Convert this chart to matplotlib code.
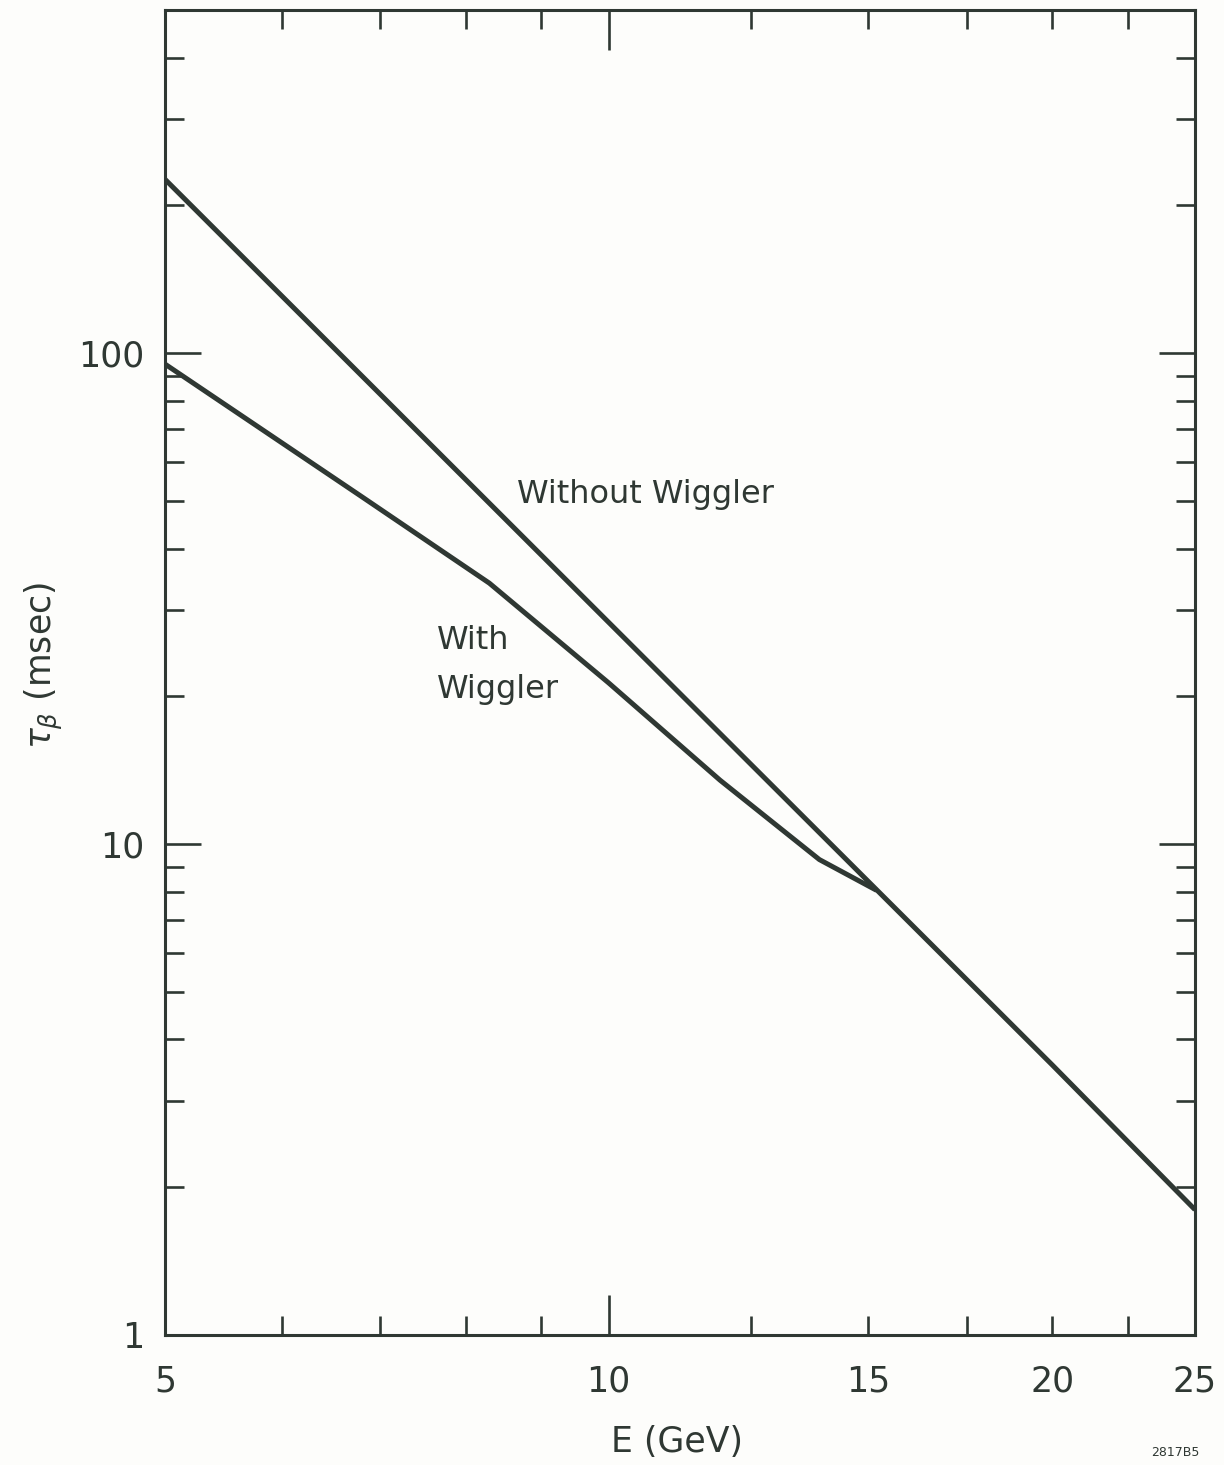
import matplotlib
matplotlib.use("Agg")
import matplotlib.pyplot as plt
from matplotlib.ticker import FixedLocator, FixedFormatter, NullFormatter, LogLocator

# Damping time vs. beam energy
energy_without = [5, 10, 15, 20, 25]
tau_without = [226, 28.3, 8.4, 3.55, 1.8]

energy_with = [5, 6.8, 8.3, 10, 11.9, 13.9, 15.2]
tau_with = [95, 51, 34, 21.3, 13.5, 9.3, 8.05]

x_major = [5, 10, 15, 20, 25]
x_major_labels = ["5", "10", "15", "20", "25"]
x_minor = [6, 7, 8, 9, 12.5, 17.5, 22.5]
y_major = [1, 10, 100]
y_major_labels = ["1", "10", "100"]

ink = "#2f3833"
plt.rcParams["font.family"] = ["DejaVu Sans"]

fig = plt.figure(figsize=(12.24, 14.65), dpi=100, facecolor="#fdfdfb")
ax = fig.add_axes([165 / 1224, 130 / 1465, 1030 / 1224, 1325 / 1465])
ax.set_facecolor("#fdfdfb")

ax.plot(energy_without, tau_without, color=ink, lw=3.6, solid_capstyle="butt")
ax.plot(energy_with, tau_with, color=ink, lw=3.6, solid_capstyle="butt",
        solid_joinstyle="round")

ax.set_xscale("log")
ax.set_yscale("log")
ax.set_xlim(5, 25)
ax.set_ylim(1, 500)

ax.xaxis.set_major_locator(FixedLocator(x_major))
ax.xaxis.set_major_formatter(FixedFormatter(x_major_labels))
ax.xaxis.set_minor_locator(FixedLocator(x_minor))
ax.xaxis.set_minor_formatter(NullFormatter())

ax.yaxis.set_major_locator(FixedLocator(y_major))
ax.yaxis.set_major_formatter(FixedFormatter(y_major_labels))
ax.yaxis.set_minor_locator(LogLocator(base=10, subs=range(2, 10)))
ax.yaxis.set_minor_formatter(NullFormatter())

for s in ax.spines.values():
    s.set_linewidth(2.2)
    s.set_color(ink)

ax.tick_params(axis="both", which="both", direction="in", top=True, right=True,
               color=ink, width=1.9, labelcolor=ink)
ax.tick_params(axis="x", which="major", length=14, pad=21, labelsize=25)
ax.tick_params(axis="x", which="minor", length=14)
ax.tick_params(axis="y", which="major", length=26, pad=15, labelsize=25)
ax.tick_params(axis="y", which="minor", length=14)

# longer mark at E = 10 GeV on bottom and top axes
t10 = ax.xaxis.get_major_ticks()[1]
t10.tick1line.set_markersize(29)
t10.tick2line.set_markersize(29)

ax.set_xlabel("E (GeV)", fontsize=25, color=ink)
ax.xaxis.set_label_coords(0.497, -0.081)
ax.xaxis.label.set_verticalalignment("center")

ax.set_ylabel(r"$\tau_\beta$ (msec)", fontsize=25, color=ink)
ax.yaxis.set_label_coords(-0.118, 0.505)
ax.yaxis.label.set_verticalalignment("center")

ax.text(8.67, 51.5, "Without Wiggler", fontsize=23, color=ink, va="center", ha="left")
ax.text(7.65, 26.0, "With", fontsize=23, color=ink, va="center", ha="left")
ax.text(7.65, 20.6, "Wiggler", fontsize=23, color=ink, va="center", ha="left")

fig.text(1175 / 1224, 1 - 1453 / 1465, "2817B5", fontsize=9, color=ink,
         ha="center", va="center")

fig.savefig("out.png", dpi=100, facecolor=fig.get_facecolor())
